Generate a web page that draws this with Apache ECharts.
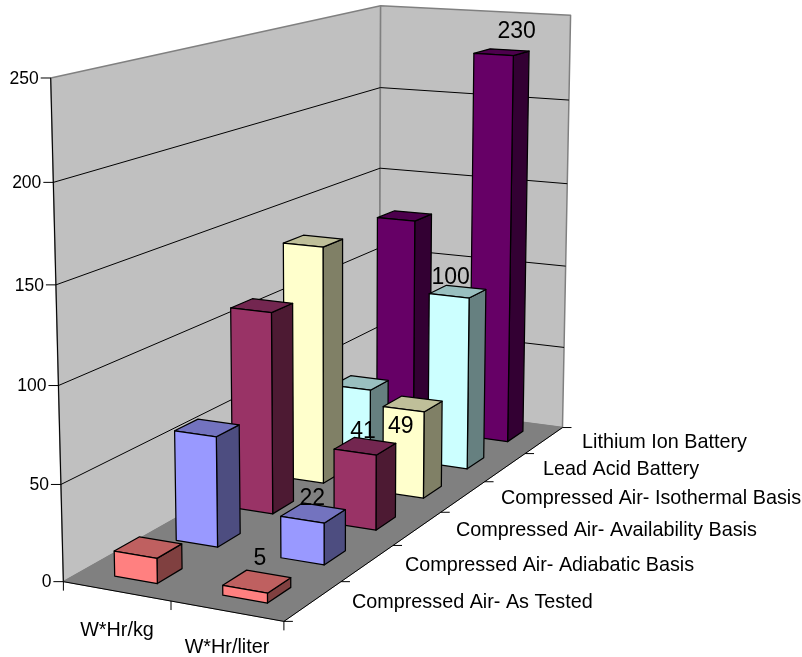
<!DOCTYPE html>
<html><head><meta charset="utf-8">
<style>html,body{margin:0;padding:0;background:#fff}#c{width:802px;height:657px}</style>
<script src="https://cdn.jsdelivr.net/npm/echarts@6/dist/echarts.min.js"></script>
</head><body><div id="c"></div>
<script>
// ---------- data ----------
var metrics = ['W*Hr/kg', 'W*Hr/liter'];
var technologies = ['Compressed Air- As Tested', 'Compressed Air- Adiabatic Basis', 'Compressed Air- Availability Basis', 'Compressed Air- Isothermal Basis', 'Lead Acid Battery', 'Lithium Ion Battery'];
var asTested = [13, 5];
var adiabatic = [59, 22];
var availability = [111, 41];
var isothermal = [135, 49];
var leadAcid = [39, 100];
var lithiumIon = [128, 230];
var valueTicks = [0, 50, 100, 150, 200, 250];
var seriesValues = [asTested, adiabatic, availability, isothermal, leadAcid, lithiumIon];

// ---------- styling / layout ----------
var W = 802, H = 657, FONT = '"Liberation Sans", Arial, sans-serif';
var frontColors = ['#FF8080', '#9999FF', '#993366', '#FFFFCC', '#CCFFFF', '#660066'];
var topColors = ['#BF6060', '#7373BF', '#732650', '#BFBF99', '#99BFBF', '#4D004D'];
var sideColors = ['#804040', '#4D4D80', '#4D1A33', '#808066', '#668080', '#330033'];
var barFraction = 0.4;
var labelOffsets = [[3, -23], [-1, -14], [-2, -15], [-12, 23], [-7, -14], [15, -21]];
var depthLabelPos = [[352, 603], [405, 566], [456, 531], [501, 499], [543, 470], [582, 443]];
var metricLabelPos = [[117, 631], [227, 648]];

// Camera calibration: cube corners (x, value, depth) -> page position
var cal = [
  [0, 0, 0, 63, 582], [1, 0, 0, 284, 621], [1, 0, 1, 562, 428], [0, 0, 1, 380, 403],
  [0, 1, 0, 51, 78], [0, 1, 1, 380, 6], [1, 1, 1, 571, 15]
];
function solveCamera() {
  var A = [], b = [];
  cal.forEach(function (c) {
    var X = c[0], Y = c[1], Z = c[2], u = c[3], v = c[4];
    A.push([X, Y, Z, 1, 0, 0, 0, 0, -u * X, -u * Y, -u * Z]); b.push(u);
    A.push([0, 0, 0, 0, X, Y, Z, 1, -v * X, -v * Y, -v * Z]); b.push(v);
  });
  var n = 11, N = [];
  for (var i = 0; i < n; i++) {
    N.push([]);
    for (var j = 0; j <= n; j++) {
      var s = 0;
      for (var k = 0; k < A.length; k++) s += A[k][i] * (j < n ? A[k][j] : b[k]);
      N[i].push(s);
    }
  }
  for (i = 0; i < n; i++) {
    var p = i;
    for (k = i + 1; k < n; k++) if (Math.abs(N[k][i]) > Math.abs(N[p][i])) p = k;
    var t = N[i]; N[i] = N[p]; N[p] = t;
    for (k = 0; k < n; k++) if (k !== i) {
      var f = N[k][i] / N[i][i];
      for (j = i; j <= n; j++) N[k][j] -= f * N[i][j];
    }
  }
  var m = [];
  for (i = 0; i < n; i++) m.push(N[i][n] / N[i][i]);
  return m;
}
var M = solveCamera();
function project(x, y, z) {
  var d = M[8] * x + M[9] * y + M[10] * z + 1;
  return [(M[0] * x + M[1] * y + M[2] * z + M[3]) / d, (M[4] * x + M[5] * y + M[6] * z + M[7]) / d];
}
function poly(pts, fill, stroke, lw) {
  return { type: 'polygon', shape: { points: pts }, style: { fill: fill, stroke: stroke || 'none', lineWidth: lw || 1, lineJoin: 'round' } };
}
function line(a, b, color, lw) {
  return { type: 'line', shape: { x1: a[0], y1: a[1], x2: b[0], y2: b[1] }, style: { stroke: color, lineWidth: lw || 1 } };
}
function text(s, x, y, size, align, vAlign) {
  return { type: 'text', z2: 100, style: { text: s, x: x, y: y, fill: '#000', font: size + 'px ' + FONT, align: align || 'left', verticalAlign: vAlign || 'middle' } };
}
// The library's hidden scales give the position along the metric and value axes.
function toCube(api, cat, val) {
  var c = api.coord([cat, val]);
  return [c[0] / W, (H - c[1]) / H];
}

function renderFrame(params, api) {
  var kids = [];
  var valueOf = function (v) { return toCube(api, 0, v)[1]; };
  var top = valueOf(250);
  var P = function (x, v, z) { return project(x, v, z); };
  kids.push(poly([P(0, 0, 0), P(0, top, 0), P(0, top, 1), P(0, 0, 1)], '#C0C0C0', '#808080', 1.5));
  kids.push(poly([P(0, 0, 1), P(0, top, 1), P(1, top, 1), P(1, 0, 1)], '#C0C0C0', '#808080', 1.5));
  kids.push(poly([P(0, 0, 0), P(1, 0, 0), P(1, 0, 1), P(0, 0, 1)], '#808080', '#808080'));
  valueTicks.forEach(function (t) {
    var y = valueOf(t);
    if (t > 0 && t < 250) {
      kids.push(line(P(0, y, 0), P(0, y, 1), '#000'));
      kids.push(line(P(0, y, 1), P(1, y, 1), '#000'));
    }
    var a = P(0, y, 0);
    kids.push(line([a[0] - 10, a[1]], a, '#000'));
    kids.push(text(String(t), a[0] - 12, a[1] + 1, 17.5, 'right'));
  });
  // axis edges
  kids.push(line(P(0, 0, 0), P(0, top, 0), '#000'));
  kids.push(line(P(0, 0, 0), P(1, 0, 0), '#000'));
  kids.push(line(P(1, 0, 0), P(1, 0, 1), '#000'));
  // metric ticks and labels
  [0, 0.5, 1].forEach(function (x) {
    var a = P(x, 0, 0);
    kids.push(line(a, [a[0], a[1] + 9], '#000'));
  });
  metrics.forEach(function (m, i) {
    kids.push(text(m, metricLabelPos[i][0], metricLabelPos[i][1], 19.8, 'center'));
  });
  // depth ticks and labels
  for (var d = 0; d <= technologies.length; d++) {
    var e = P(1, 0, d / technologies.length);
    kids.push(line(e, [e[0] + 9, e[1]], '#000'));
  }
  technologies.forEach(function (name, i) {
    kids.push(text(name, depthLabelPos[i][0], depthLabelPos[i][1], 19.8, 'left'));
  });
  return { type: 'group', children: kids };
}

function renderBar(depthIndex) {
  return function (params, api) {
    var cat = api.value(0), val = api.value(1);
    var base = toCube(api, cat, 0), topC = toCube(api, cat, val);
    var hw = api.size([1, 0])[0] / W * barFraction / 2;
    var n = technologies.length;
    var zc = (depthIndex + 0.5) / n, hd = barFraction / n / 2;
    var x0 = base[0] - hw, x1 = base[0] + hw, z0 = zc - hd, z1 = zc + hd, y0 = base[1], y1 = topC[1];
    return {
      type: 'group', children: [
        poly([project(x1, y0, z0), project(x1, y1, z0), project(x1, y1, z1), project(x1, y0, z1)], sideColors[depthIndex], '#000', 1.25),
        poly([project(x0, y1, z0), project(x1, y1, z0), project(x1, y1, z1), project(x0, y1, z1)], topColors[depthIndex], '#000', 1.25),
        poly([project(x0, y0, z0), project(x1, y0, z0), project(x1, y1, z0), project(x0, y1, z0)], frontColors[depthIndex], '#000', 1.25)
      ]
    };
  };
}
function renderLabel(params, api) {
  var val = api.value(1);
  var c = toCube(api, 1, val);
  var p = project(c[0], c[1], (api.value(2) + 0.5) / technologies.length);
  var off = labelOffsets[api.value(2)];
  return text(String(val), p[0] + off[0], p[1] + off[1], 23, 'center');
}

var series = [{
  type: 'custom', z: 1, silent: true, renderItem: renderFrame, data: [[0, 0]], clip: false
}];
for (var d = technologies.length - 1; d >= 0; d--) {
  series.push({
    type: 'custom', name: technologies[d], z: 10 + (technologies.length - d), silent: true,
    renderItem: renderBar(d), clip: false,
    data: seriesValues[d].map(function (v, i) { return [i, v]; })
  });
}
series.push({
  type: 'custom', z: 50, silent: true, renderItem: renderLabel, clip: false,
  data: seriesValues.map(function (s, d) { return [1, s[1], d]; })
});

var chart = echarts.init(document.getElementById('c'), null, { renderer: 'canvas' });
chart.setOption({
  animation: false,
  backgroundColor: '#fff',
  grid: { left: 0, top: 0, width: W, height: H },
  xAxis: { type: 'category', data: metrics, show: false },
  yAxis: { type: 'value', min: 0, max: 250, interval: 50, show: false },
  series: series
});
</script></body></html>
